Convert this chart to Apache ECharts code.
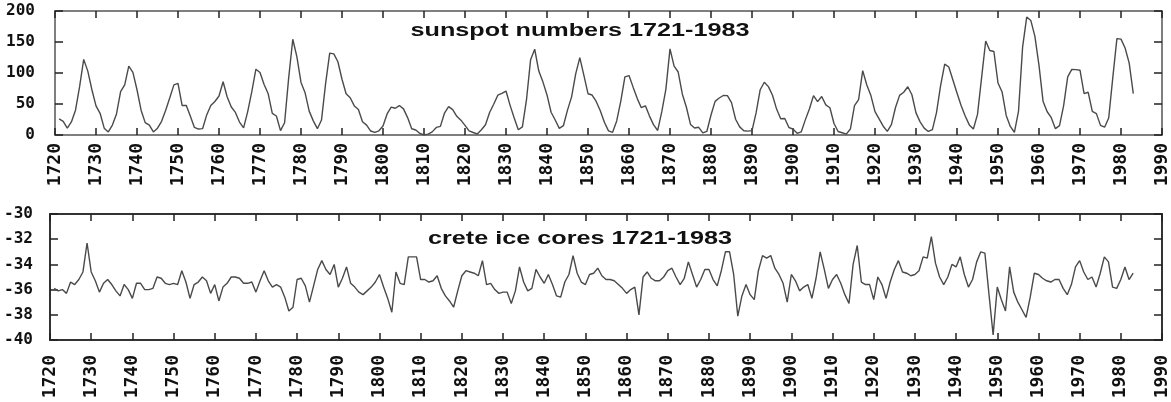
<!DOCTYPE html>
<html>
<head>
<meta charset="utf-8">
<script src="https://cdn.jsdelivr.net/npm/echarts@6/dist/echarts.min.js"></script>
<style>
  html, body { margin: 0; padding: 0; background: #fff; }
  #chart { width: 1171px; height: 402px; }
</style>
</head>
<body>
<div id="chart"></div>
<script>
// yearly values, 1721 .. 1983
const firstYear = 1721
const sunspots = [
  26, 22, 11, 21, 40, 78, 122, 103, 73,
  47, 35, 11, 5, 16, 34, 70, 81, 111, 101,
  73, 40, 20, 16, 5, 11, 22, 40, 60, 80.9,
  83.4, 47.7, 47.8, 30.7, 12.2, 9.6, 10.2, 32.4, 47.6, 54.0,
  62.9, 85.9, 61.2, 45.1, 36.4, 20.9, 11.4, 37.8, 69.8, 106.1,
  100.8, 81.6, 66.5, 34.8, 30.6, 7.0, 19.8, 92.5, 154.4, 125.9,
  84.8, 68.1, 38.5, 22.8, 10.2, 24.1, 82.9, 132.0, 130.9, 118.1,
  89.9, 66.6, 60.0, 46.9, 41.0, 21.3, 16.0, 6.4, 4.1, 6.8,
  14.5, 34.0, 45.0, 43.1, 47.5, 42.2, 28.1, 10.1, 8.1, 2.5,
  0.0, 1.4, 5.0, 12.2, 13.9, 35.4, 45.8, 41.0, 30.1, 23.9,
  15.6, 6.6, 4.0, 1.8, 8.5, 16.6, 36.3, 49.6, 64.2, 67.0,
  70.9, 47.8, 27.5, 8.5, 13.2, 56.9, 121.5, 138.3, 103.2, 85.7,
  64.6, 36.7, 24.2, 10.7, 15.0, 40.1, 61.5, 98.5, 124.7, 96.3,
  66.6, 64.5, 54.1, 39.0, 20.6, 6.7, 4.3, 22.7, 54.8, 93.8,
  95.8, 77.2, 59.1, 44.0, 47.0, 30.5, 16.3, 7.3, 37.6, 74.0,
  139.0, 111.2, 101.6, 66.2, 44.7, 17.0, 11.3, 12.4, 3.4, 6.0,
  32.3, 54.3, 59.7, 63.7, 63.5, 52.2, 25.4, 13.1, 6.8, 6.3,
  7.1, 35.6, 73.0, 85.1, 78.0, 64.0, 41.8, 26.2, 26.7, 12.1,
  9.5, 2.7, 5.0, 24.4, 42.0, 63.5, 53.8, 62.0, 48.5, 43.9,
  18.6, 5.7, 3.6, 1.4, 9.6, 47.4, 57.1, 103.9, 80.6, 63.6,
  37.6, 26.1, 14.2, 5.8, 16.7, 44.3, 63.9, 69.0, 77.8, 64.9,
  35.7, 21.2, 11.1, 5.7, 8.7, 36.1, 79.7, 114.4, 109.6, 88.8,
  67.8, 47.5, 30.6, 16.3, 9.6, 33.2, 92.6, 151.6, 136.3, 134.7,
  83.9, 69.4, 31.5, 13.9, 4.4, 38.0, 141.7, 190.2, 184.8, 159.0,
  112.3, 53.9, 37.5, 27.9, 10.2, 15.1, 47.0, 93.8, 105.9, 105.5,
  104.5, 66.6, 68.9, 38.0, 34.5, 15.5, 12.6, 27.5, 92.5, 155.4,
  154.6, 140.4, 115.9, 66.6
]
const iceCores = [
  -35.9, -36.1, -36.0, -36.3, -35.4, -35.6, -35.2, -34.6, -32.3,
  -34.6, -35.3, -36.2, -35.5, -35.2, -35.6, -36.1, -36.5, -35.6, -36.0,
  -36.7, -35.5, -35.5, -36.0, -36.0, -35.9, -35.0, -35.1, -35.5, -35.6,
  -35.5, -35.6, -34.5, -35.4, -36.7, -35.6, -35.4, -35.0, -35.3, -36.3,
  -35.6, -36.9, -35.8, -35.5, -35.0, -35.0, -35.1, -35.5, -35.5, -35.4,
  -36.2, -35.3, -34.5, -35.3, -35.8, -35.6, -35.8, -36.6, -37.7, -37.4,
  -35.2, -35.1, -35.7, -37.0, -35.7, -34.4, -33.7, -34.4, -34.8, -34.0,
  -35.8, -35.1, -34.2, -35.5, -35.8, -36.2, -36.4, -36.1, -35.8, -35.4,
  -34.8, -35.8, -36.7, -37.8, -34.6, -35.5, -35.6, -33.4, -33.4, -33.4,
  -35.2, -35.2, -35.4, -35.3, -34.9, -35.9, -36.5, -36.9, -37.4, -36.1,
  -34.9, -34.5, -34.6, -34.7, -34.9, -33.7, -35.6, -35.5, -36.0, -36.3,
  -36.2, -36.2, -37.1, -36.1, -34.2, -35.4, -36.1, -35.9, -34.4, -35.0,
  -35.5, -34.8, -35.6, -36.5, -36.6, -35.4, -34.8, -33.3, -34.7, -35.4,
  -35.6, -34.8, -34.7, -34.3, -34.9, -35.2, -35.2, -35.3, -35.6, -35.9,
  -36.3, -36.0, -35.8, -38.0, -35.0, -34.6, -35.1, -35.3, -35.3, -35.0,
  -34.5, -34.3, -35.0, -35.6, -35.1, -33.8, -34.8, -35.8, -35.2, -34.4,
  -34.4, -35.2, -35.7, -34.5, -33.0, -33.0, -34.8, -38.1, -36.5, -35.6,
  -36.4, -36.8, -34.5, -33.3, -33.5, -33.3, -34.3, -34.8, -35.5, -37.0,
  -34.8, -35.3, -36.1, -35.8, -35.6, -36.7, -35.1, -33.0, -34.4, -35.9,
  -35.2, -34.8, -35.5, -36.4, -37.1, -34.0, -32.5, -35.4, -35.6, -35.6,
  -36.8, -35.0, -35.6, -36.7, -35.4, -34.4, -33.7, -34.6, -34.7, -34.9,
  -34.8, -34.5, -33.4, -33.5, -31.8, -33.9, -35.0, -35.6, -35.0, -34.0,
  -34.2, -33.4, -34.8, -35.8, -35.2, -33.8, -33.0, -33.1, -36.4, -39.6,
  -35.8, -36.8, -37.7, -34.2, -36.2, -37.0, -37.6, -38.2, -36.6, -34.7,
  -34.8, -35.1, -35.3, -35.4, -35.2, -35.2, -35.9, -36.4, -35.6, -34.2,
  -33.7, -34.6, -35.2, -35.0, -35.8, -34.7, -33.4, -33.8, -35.8, -35.9,
  -35.2, -34.2, -35.2, -34.7
]
const sunspotTicks = [0, 50, 100, 150, 200]
const iceTicks = [-40, -38, -36, -34, -32, -30]

const toPairs = (vals) => vals.map((v, i) => [firstYear + i, v])

const chart = echarts.init(document.getElementById('chart'), null, { renderer: 'canvas' })

const labelFont = 'DejaVu Sans Mono'

function xAxes(grid, lineColor, lineWidth, margin, shift) {
  const base = {
    gridIndex: grid,
    type: 'value',
    min: 1720,
    max: 1990,
    interval: 10,
    axisLine: { show: true, onZero: false, lineStyle: { color: lineColor, width: lineWidth } },
    axisTick: { show: true, inside: true, length: 7, lineStyle: { color: '#222', width: 1.5 } },
    splitLine: { show: false },
  }
  return [
    {
      ...base,
      position: 'bottom',
      axisLabel: {
        rotate: 90,
        margin: margin,
        color: '#111',
        fontFamily: labelFont,
        fontWeight: 'bold',
        fontSize: 18,
        padding: [0, 0, shift, 0],
        formatter: (v) => String(v),
      },
    },
    { ...base, position: 'top', axisLabel: { show: false } },
  ]
}

function yAxes(grid, min, max, step, lineColor, lineWidth, margin) {
  const base = {
    gridIndex: grid,
    type: 'value',
    min: min,
    max: max,
    interval: step,
    axisLine: { show: true, onZero: false, lineStyle: { color: lineColor, width: lineWidth } },
    axisTick: { show: true, inside: true, length: 8, lineStyle: { color: '#222', width: 1.5 } },
    splitLine: { show: false },
  }
  return [
    {
      ...base,
      position: 'left',
      axisLabel: {
        margin: margin,
        color: '#111',
        fontFamily: labelFont,
        fontWeight: 'bold',
        fontSize: 16,
      },
    },
    { ...base, position: 'right', axisLabel: { show: false } },
  ]
}

chart.setOption({
  animation: false,
  backgroundColor: '#fff',
  grid: [
    { left: 55, right: 5, top: 11, height: 124 },
    { left: 50, right: 7, top: 214, height: 126 },
  ],
  xAxis: [
    ...xAxes(0, '#555', 1.5, 8, 22),
    ...xAxes(1, '#333', 2, 15, 18),
  ],
  yAxis: [
    ...yAxes(0, sunspotTicks[0], sunspotTicks[sunspotTicks.length - 1], 50, '#555', 1.5, 20),
    ...yAxes(1, iceTicks[0], iceTicks[iceTicks.length - 1], 2, '#333', 2, 17),
  ],
  graphic: [
    {
      type: 'text',
      x: 580,
      y: 31,
      scaleX: 1.4,
      style: {
        text: 'sunspot numbers 1721-1983',
        font: 'bold 18px "Liberation Sans", Arial, sans-serif',
        fill: '#111',
        align: 'center',
        verticalAlign: 'middle',
      },
    },
    {
      type: 'text',
      x: 580,
      y: 239,
      scaleX: 1.4,
      style: {
        text: 'crete ice cores 1721-1983',
        font: 'bold 18px "Liberation Sans", Arial, sans-serif',
        fill: '#111',
        align: 'center',
        verticalAlign: 'middle',
      },
    },
  ],
  series: [
    {
      name: 'sunspot numbers',
      type: 'line',
      xAxisIndex: 0,
      yAxisIndex: 0,
      data: toPairs(sunspots),
      showSymbol: false,
      symbol: 'none',
      lineStyle: { color: '#4a4a4a', width: 1.4 },
    },
    {
      name: 'crete ice cores',
      type: 'line',
      xAxisIndex: 2,
      yAxisIndex: 2,
      data: toPairs(iceCores),
      showSymbol: false,
      symbol: 'none',
      lineStyle: { color: '#4a4a4a', width: 1.4 },
    },
  ],
})
</script>
</body>
</html>
